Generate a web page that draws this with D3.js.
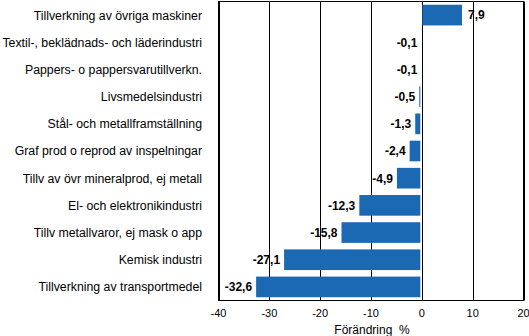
<!DOCTYPE html>
<html>
<head>
<meta charset="utf-8">
<script src="https://cdn.jsdelivr.net/npm/d3@7"></script>
<style>
  html, body { margin: 0; padding: 0; background: #fff; }
  svg { display: block; }
</style>
</head>
<body>
<svg id="chart" width="529" height="336"></svg>
<script>
// Industry branches, top to bottom
const categories = [
  "Tillverkning av övriga maskiner",
  "Textil-, beklädnads- och läderindustri",
  "Pappers- o pappersvarutillverkn.",
  "Livsmedelsindustri",
  "Stål- och metallframställning",
  "Graf prod o reprod av inspelningar",
  "Tillv av övr mineralprod, ej metall",
  "El- och elektronikindustri",
  "Tillv metallvaror, ej mask o app",
  "Kemisk industri",
  "Tillverkning av transportmedel"
];
// Change in percent
const values = [7.9, -0.1, -0.1, -0.5, -1.3, -2.4, -4.9, -12.3, -15.8, -27.1, -32.6];
const xTicks = [-40, -30, -20, -10, 0, 10, 20];
const axisTitle = "Förändring  %";

const svg = d3.select("#chart");
const plotLeft = 218.5, plotRight = 523.5, plotTop = 1.5, plotBottom = 300.5;

const x = d3.scaleLinear().domain([-40, 20]).range([plotLeft, plotRight]);
const y = d3.scaleBand().domain(categories).range([plotTop, plotBottom]).paddingInner(0.24).paddingOuter(0.12);

const fmt = v => d3.format(".1f")(v).replace(".", ",").replace("−", "-");

// Vertical gridlines
svg.append("g").selectAll("line").data(xTicks).join("line")
  .attr("x1", d => Math.round(x(d)) + 0.5).attr("x2", d => Math.round(x(d)) + 0.5)
  .attr("y1", plotTop).attr("y2", plotBottom)
  .attr("stroke", "#000").attr("stroke-width", 1);

// Frame
svg.append("rect")
  .attr("x", plotLeft).attr("y", plotTop)
  .attr("width", plotRight - plotLeft).attr("height", plotBottom - plotTop)
  .attr("fill", "none").attr("stroke", "#000").attr("stroke-width", 1);

// Bars
svg.append("g").selectAll("rect").data(values).join("rect")
  .attr("x", d => d >= 0 ? x(0) + 0.5 : x(d))
  .attr("width", d => d >= 0 ? x(d) - x(0) - 0.5 : x(0) - x(d) - 1.5)
  .attr("y", (d, i) => y(categories[i]))
  .attr("height", y.bandwidth())
  .attr("fill", "#1c69b3");

// Value labels
svg.append("g").selectAll("text").data(values).join("text")
  .attr("x", d => d >= 0 ? x(d) + 6 : x(d) - 4)
  .attr("y", (d, i) => y(categories[i]) + y.bandwidth() / 2)
  .attr("dy", "0.36em")
  .attr("text-anchor", d => d >= 0 ? "start" : "end")
  .attr("font-family", "'Liberation Sans Narrow', 'Arial Narrow', sans-serif")
  .attr("font-weight", "bold")
  .attr("font-size", 12)
  .attr("fill", "#000")
  .text(fmt);

// Category labels
svg.append("g").selectAll("text").data(categories).join("text")
  .attr("x", 202)
  .attr("y", d => y(d) + y.bandwidth() / 2)
  .attr("dy", "0.36em")
  .attr("text-anchor", "end")
  .attr("font-family", "'Liberation Sans', Arial, sans-serif")
  .attr("font-size", 12.3)
  .attr("fill", "#000")
  .text(d => d);

// X tick labels
svg.append("g").selectAll("text").data(xTicks).join("text")
  .attr("x", d => x(d))
  .attr("y", 313)
  .attr("dy", "0.36em")
  .attr("text-anchor", "middle")
  .attr("font-family", "'Liberation Sans', Arial, sans-serif")
  .attr("font-size", 11)
  .attr("fill", "#000")
  .text(d => d);

// Axis title
svg.append("text")
  .attr("x", (plotLeft + plotRight) / 2 + 1)
  .attr("y", 330)
  .attr("dy", "0.36em")
  .attr("text-anchor", "middle")
  .attr("font-family", "'Liberation Sans', Arial, sans-serif")
  .attr("font-size", 12)
  .attr("fill", "#000")
  .style("white-space", "pre")
  .text(axisTitle);
</script>
</body>
</html>
